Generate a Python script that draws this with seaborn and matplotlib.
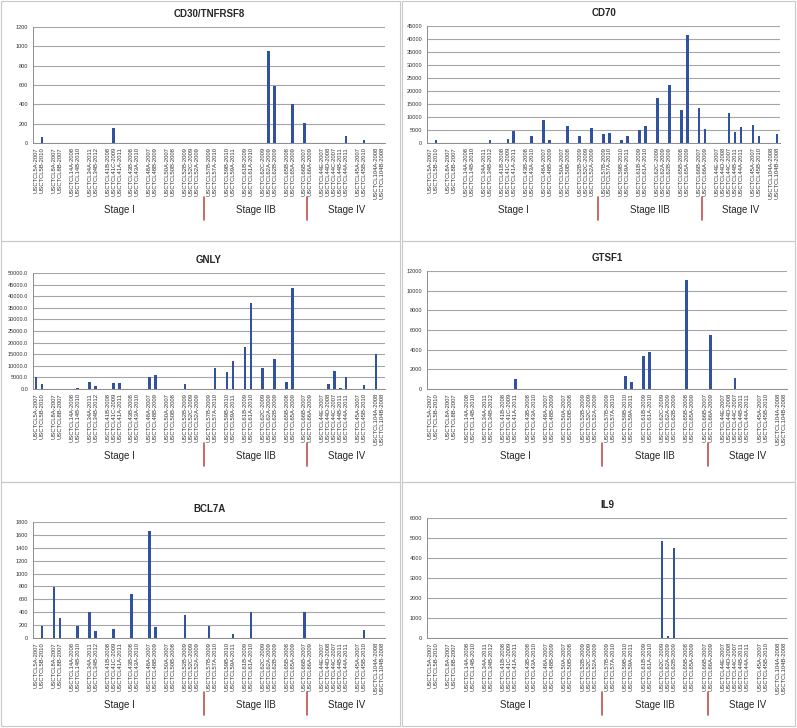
"""
Expression of six genes across CTCL patient samples, grouped by stage.
Six small Excel-style bar panels laid out 3 x 2, saved as out.png.
"""

import matplotlib
matplotlib.use("Agg")

import matplotlib.pyplot as plt
import matplotlib.patches as mpatches
import pandas as pd
import seaborn as sns

# =============================================================================
# Data
# =============================================================================

# Samples, one list per patient, grouped by stage
stage_i_patients = [
    ["USCTCL5A-2007", "USCTCL5B-2010"],
    ["USCTCL8A-2007", "USCTCL8B-2007"],
    ["USCTCL14A-2008", "USCTCL14B-2010"],
    ["USCTCL34A-2011", "USCTCL34B-2012"],
    ["USCTCL41B-2008", "USCTCL41C-2009", "USCTCL41A-2011"],
    ["USCTCL43B-2008", "USCTCL43A-2010"],
    ["USCTCL48A-2007", "USCTCL48B-2009"],
    ["USCTCL50A-2007", "USCTCL50B-2008"],
    ["USCTCL52B-2009", "USCTCL52C-2009", "USCTCL52A-2009"],
]
stage_iib_patients = [
    ["USCTCL57B-2009", "USCTCL57A-2010"],
    ["USCTCL59B-2010", "USCTCL59A-2011"],
    ["USCTCL61B-2009", "USCTCL61A-2010"],
    ["USCTCL62C-2009", "USCTCL62A-2009", "USCTCL62B-2009"],
    ["USCTCL65B-2008", "USCTCL65A-2009"],
    ["USCTCL66B-2007", "USCTCL66A-2009"],
]
stage_iv_patients = [
    ["USCTCL44E-2007", "USCTCL44D-2008", "USCTCL44C-2007",
     "USCTCL44B-2011", "USCTCL44A-2011"],
    ["USCTCL45A-2007", "USCTCL45B-2010"],
    ["USCTCL104A-2008", "USCTCL104B-2008"],
]

stage_names = ["Stage I", "Stage IIB", "Stage IV"]

# Values in sample order (Stage I | Stage IIB | Stage IV)
cd30_values = [
    0, 65, 0, 0, 0, 0, 0, 0, 0, 158, 0, 0, 0, 0, 0, 0, 0, 0, 0, 0,
    0, 0, 0, 0, 0, 0, 0, 950, 585, 0, 400, 212, 0,
    0, 0, 0, 0, 72, 0, 28, 0, 0,
]
cd70_values = [
    0, 1000, 0, 0, 0, 0, 0, 1000, 0, 1400, 4700, 0, 2800, 8700, 1000,
    0, 6700, 2600, 0, 5800,
    3600, 3700, 1000, 2600, 5100, 6700, 17500, 0, 22500, 12600, 41400,
    13300, 5400,
    0, 0, 11400, 4100, 6300, 6900, 2600, 0, 3300,
]
gnly_values = [
    5000, 2300, 0, 0, 0, 570, 3000, 1400, 0, 2400, 2600, 0, 0, 5000, 6000,
    0, 0, 2000, 0, 0,
    200, 9000, 7300, 12000, 18100, 37100, 9100, 0, 12900, 3000, 43400,
    0, 0,
    0, 2300, 7700, 500, 5100, 0, 1700, 15000, 0,
]
gtsf1_values = [
    0, 0, 0, 0, 0, 0, 0, 0, 0, 0, 980, 0, 0, 0, 0, 0, 0, 0, 0, 0,
    0, 0, 1350, 710, 3400, 3750, 0, 0, 0, 11050, 0, 0, 5480,
    0, 0, 1150, 0, 0, 0, 0, 0, 0,
]
bcl7a_values = [
    0, 190, 790, 310, 0, 180, 405, 108, 0, 144, 0, 683, 0, 1660, 165,
    0, 0, 355, 0, 0,
    190, 0, 0, 62, 0, 405, 0, 0, 0, 0, 0, 405, 0,
    0, 0, 0, 0, 0, 0, 123, 0, 0,
]
il9_values = [
    0, 0, 0, 0, 0, 0, 0, 0, 0, 0, 0, 0, 0, 0, 0, 0, 0, 0, 0, 0,
    0, 0, 0, 0, 0, 0, 4870, 100, 4480, 0, 0, 0, 0,
    0, 0, 0, 0, 0, 0, 0, 0, 0,
]

# =============================================================================
# Layout / style
# =============================================================================

FIG_W, FIG_H = 797, 728
DPI = 100

BAR_COLOR = "#3152a0"
GRID_COLOR = "#a6a6a6"
SEP_COLOR = "#c0504d"

# title, values, axes box in pixels (left, top, right, bottom), ymax, step, fmt
panels = [
    ("CD30/TNFRSF8", cd30_values, (33, 27, 385, 143), 1200, 200, "{:.0f}"),
    ("CD70", cd70_values, (427, 26, 780, 143), 45000, 5000, "{:.0f}"),
    ("GNLY", gnly_values, (33, 273, 385, 389), 50000, 5000, "{:.1f}"),
    ("GTSF1", gtsf1_values, (427, 271, 787, 389), 12000, 2000, "{:.0f}"),
    ("BCL7A", bcl7a_values, (33, 522, 385, 638), 1800, 200, "{:.0f}"),
    ("IL9", il9_values, (427, 518, 787, 638), 6000, 1000, "{:.0f}"),
]

# stage annotation positions in slot units
STAGE_LABEL_X = [14.0, 36.8, 52.0]
STAGE_SEP_X = [28.1, 45.5]


# =============================================================================
# Build slot order (one slot per sample, blank slot between patients)
# =============================================================================

all_patients = stage_i_patients + stage_iib_patients + stage_iv_patients

slot_order = []
slot_labels = []
for i, patient in enumerate(all_patients):
    if i > 0:
        slot_order.append(f"gap{i}")
        slot_labels.append("")
    for sample in patient:
        slot_order.append(sample)
        slot_labels.append(sample)

sample_names = [s for patient in all_patients for s in patient]


def px_axes(fig, box):
    left, top, right, bottom = box
    return fig.add_axes([
        left / FIG_W,
        1 - bottom / FIG_H,
        (right - left) / FIG_W,
        (bottom - top) / FIG_H,
    ])


def main():

    sns.set_style("white")
    plt.rcParams["font.family"] = ["Liberation Sans", "DejaVu Sans"]

    fig = plt.figure(figsize=(FIG_W / DPI, FIG_H / DPI), dpi=DPI)

    # chart borders
    for (x0, y0, x1, y1) in [
        (1, 1, 400, 241), (402, 1, 795, 241),
        (1, 241, 400, 482), (402, 241, 795, 482),
        (1, 482, 400, 726), (402, 482, 795, 726),
    ]:
        fig.add_artist(mpatches.Rectangle(
            (x0 / FIG_W, 1 - y1 / FIG_H),
            (x1 - x0) / FIG_W,
            (y1 - y0) / FIG_H,
            transform=fig.transFigure,
            fill=False,
            edgecolor="#c8c8c8",
            linewidth=0.8,
        ))

    for title, values, box, ymax, step, fmt in panels:

        ax = px_axes(fig, box)
        axes_h = box[3] - box[1]

        df = pd.DataFrame({"sample": sample_names, "value": values})

        sns.barplot(
            data=df,
            x="sample",
            y="value",
            order=slot_order,
            color=BAR_COLOR,
            saturation=1,
            width=0.42,
            linewidth=0,
            ax=ax,
            zorder=3,
        )

        ax.set_xlim(-0.5, len(slot_order) - 0.5)
        ax.set_ylim(0, ymax)

        yticks = list(range(0, ymax + 1, step))
        ax.set_yticks(yticks)
        ax.set_yticklabels([fmt.format(v) for v in yticks], fontsize=4)
        ax.yaxis.grid(True, color=GRID_COLOR, linewidth=0.8)
        ax.set_axisbelow(True)

        ax.set_xticks(range(len(slot_order)))
        ax.set_xticklabels(slot_labels, rotation=90, fontsize=4.2,
                           color="#333333")
        ax.set_xticks([k + 0.5 for k in range(len(slot_order) - 1)],
                      minor=True)
        ax.tick_params(axis="x", which="major", length=0, pad=3)
        ax.tick_params(axis="x", which="minor", length=2,
                       color="#8c8c8c", width=0.5)
        ax.tick_params(axis="y", length=2, color="#8c8c8c", width=0.5,
                       pad=1.5, labelcolor="#333333")

        ax.set_xlabel("")
        ax.set_ylabel("")

        for side in ["top", "right"]:
            ax.spines[side].set_visible(False)
        for side in ["left", "bottom"]:
            ax.spines[side].set_color("#8c8c8c")
            ax.spines[side].set_linewidth(0.7)

        ax.set_title(title, fontsize=7, fontweight="bold", pad=7)

        # stage labels and red separators below the sample labels
        trans = ax.get_xaxis_transform()
        for x, name in zip(STAGE_LABEL_X, stage_names):
            ax.text(x, -67 / axes_h, name, transform=trans,
                    ha="center", va="center", fontsize=7)
        for x in STAGE_SEP_X:
            ax.plot([x, x], [-54 / axes_h, -77 / axes_h], transform=trans,
                    color=SEP_COLOR, linewidth=1.2, clip_on=False)

    fig.savefig("out.png", dpi=DPI)
    plt.close(fig)


if __name__ == "__main__":
    main()
